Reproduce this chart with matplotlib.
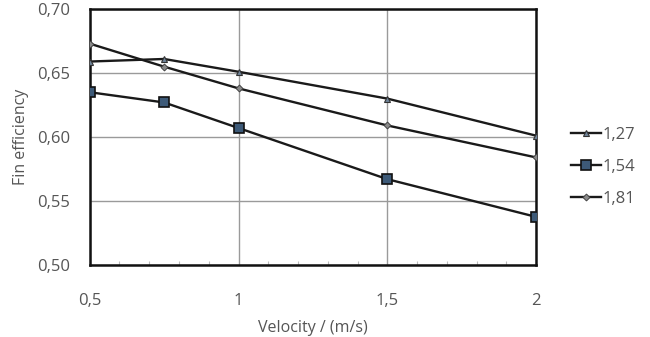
import numpy as np
import matplotlib.pyplot as plt
from matplotlib.ticker import MultipleLocator, FuncFormatter

# data
velocity = [0.5, 0.75, 1.0, 1.5, 2.0]
eff_127 = [0.659, 0.661, 0.651, 0.630, 0.601]
eff_154 = [0.635, 0.627, 0.607, 0.567, 0.5375]
eff_181 = [0.673, 0.655, 0.638, 0.609, 0.584]
labels = ['1,27', '1,54', '1,81']

plt.rcParams['font.family'] = ['Open Sans', 'DejaVu Sans']

fig = plt.figure(figsize=(6.5, 3.37), dpi=100)
ax = fig.add_axes([0.138, 0.214, 0.687, 0.759])

ax.plot(velocity, eff_127, color='#1a1a1a', lw=1.7, marker='^', ms=5,
        mfc='#6f8499', mec='#333333', mew=0.8, label=labels[0], zorder=3)
ax.plot(velocity, eff_154, color='#1a1a1a', lw=1.7, marker='s', ms=7,
        mfc='#3d5a78', mec='#111111', mew=1.2, label=labels[1], zorder=3)
ax.plot(velocity, eff_181, color='#1a1a1a', lw=1.7, marker='D', ms=3.5,
        mfc='#8a8a8a', mec='#444444', mew=0.7, label=labels[2], zorder=3)

ax.set_xlim(0.5, 2.0)
ax.set_ylim(0.50, 0.70)
ax.xaxis.set_major_locator(MultipleLocator(0.5))
ax.xaxis.set_minor_locator(MultipleLocator(0.1))
ax.yaxis.set_major_locator(MultipleLocator(0.05))

ax.xaxis.set_major_formatter(FuncFormatter(lambda v, p: ('%g' % v).replace('.', ',')))
ax.yaxis.set_major_formatter(FuncFormatter(lambda v, p: ('%.2f' % v).replace('.', ',')))

ax.grid(True, which='major', color='#9a9a9a', lw=1.0)
ax.set_axisbelow(True)
for sp in ax.spines.values():
    sp.set_color('#111111')
    sp.set_linewidth(1.8)

ax.tick_params(axis='y', which='major', length=0, pad=14,
               labelsize=12, labelcolor='#555555')
ax.tick_params(axis='x', which='major', length=0, pad=20,
               labelsize=12, labelcolor='#555555')
ax.tick_params(axis='x', which='minor', direction='in', length=3,
               color='#bbbbbb', width=0.8)

ax.set_xlabel('Velocity / (m/s)', fontsize=11.5, color='#555555', labelpad=8)
ax.set_ylabel('Fin efficiency', fontsize=11.5, color='#555555', labelpad=6)

leg = fig.legend(handles=ax.get_lines(), loc='center left',
                 bbox_to_anchor=(0.866, 0.504), frameon=False, borderpad=0,
                 fontsize=12, handlelength=1.8, handletextpad=0.1,
                 labelspacing=0.95, labelcolor='#555555')

fig.savefig('out.png', dpi=100)
